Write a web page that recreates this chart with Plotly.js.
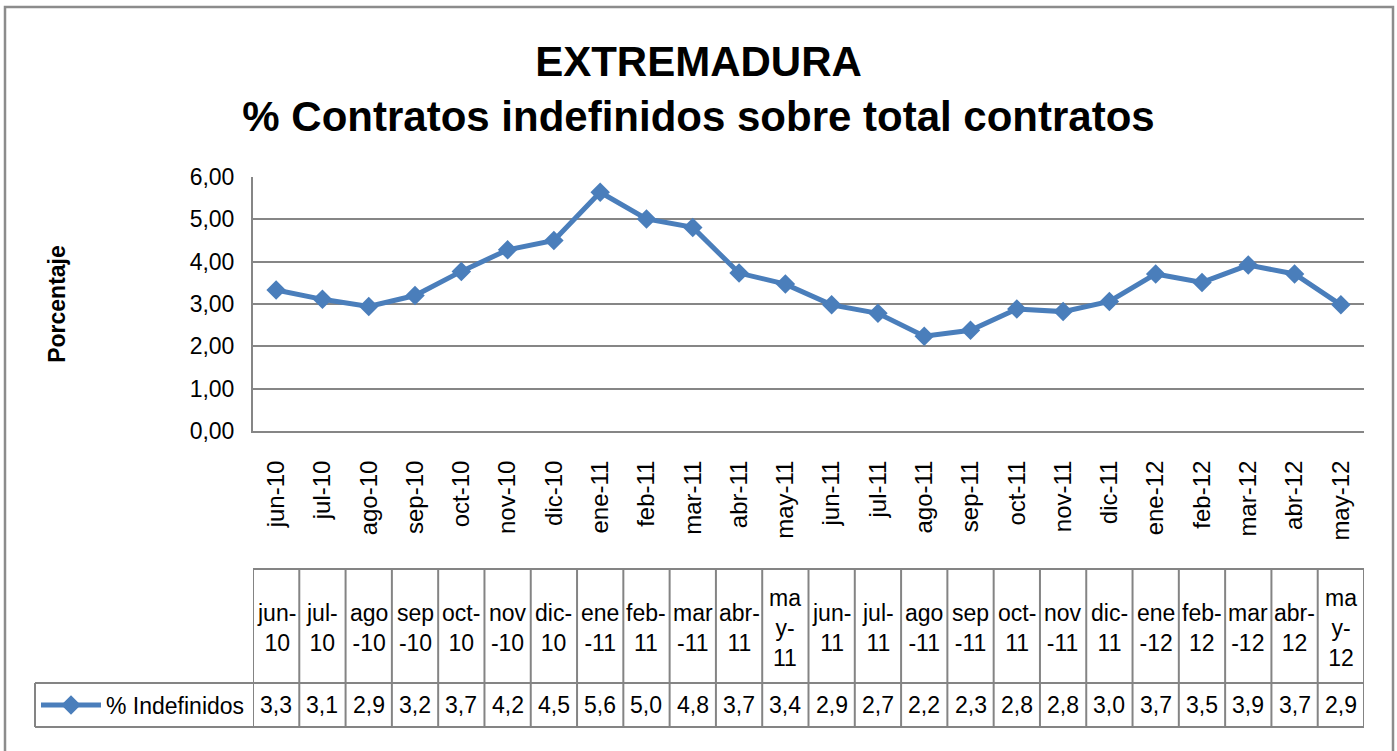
<!DOCTYPE html>
<html>
<head>
<meta charset="utf-8">
<script src="https://cdn.plot.ly/plotly-3.0.1.min.js"></script>
<style>
  html, body { margin: 0; padding: 0; background: #ffffff; }
  #chart { width: 1397px; height: 751px; }
</style>
</head>
<body>
<div id="chart"></div>
<script>
// ---- Data ----
const categories = ["jun-10","jul-10","ago-10","sep-10","oct-10","nov-10","dic-10",
  "ene-11","feb-11","mar-11","abr-11","may-11","jun-11","jul-11","ago-11","sep-11",
  "oct-11","nov-11","dic-11","ene-12","feb-12","mar-12","abr-12","may-12"];
const indefinidos = [3.33,3.11,2.94,3.20,3.77,4.28,4.50,5.64,5.01,4.81,3.73,3.47,
  2.98,2.78,2.24,2.38,2.88,2.82,3.06,3.71,3.51,3.92,3.71,2.98];
// wrapped labels as they appear in the data table header
const tableHeaders = ["jun-<br>10","jul-<br>10","ago<br>-10","sep<br>-10","oct-<br>10",
  "nov<br>-10","dic-<br>10","ene<br>-11","feb-<br>11","mar<br>-11","abr-<br>11","ma<br>y-<br>11",
  "jun-<br>11","jul-<br>11","ago<br>-11","sep<br>-11","oct-<br>11","nov<br>-11","dic-<br>11",
  "ene<br>-12","feb-<br>12","mar<br>-12","abr-<br>12","ma<br>y-<br>12"];
const seriesName = "% Indefinidos";
const yTicks = [0,1,2,3,4,5,6];

// ---- Layout helpers (pixel -> paper) ----
const W = 1397, H = 751;
const L = 253, R = 1364, T = 177, B = 431;
const px = x => (x - L) / (R - L);
const py = y => (B - y) / (B - T);

const FONT = "Liberation Sans, Arial, sans-serif";
const GRID = "#868686";
const BLUE = "#4a7ebb";

const fmt1 = v => (Math.floor(v * 10 + 1e-9) / 10).toFixed(1).replace(".", ",");

const trace = {
  type: "scatter",
  mode: "lines+markers",
  x: categories,
  y: indefinidos,
  name: seriesName,
  line: { color: BLUE, width: 5 },
  marker: { symbol: "diamond", size: 15, color: BLUE },
  cliponaxis: false
};

const shapes = [];
// outer chart border (bottom edge falls just outside the picture)
shapes.push({ type: "rect", xref: "paper", yref: "paper",
  x0: px(5), x1: px(1393), y0: py(762), y1: py(7),
  line: { color: "#8c8c8c", width: 2.5 }, fillcolor: "rgba(0,0,0,0)", layer: "below" });

const yHeadTop = py(569), yRow = py(683), yBot = py(727);
const lineStyle = { color: "#848484", width: 2 };
// horizontal lines of the data table
shapes.push({ type: "line", xref: "x", yref: "paper", x0: -0.5, x1: categories.length - 0.5,
  y0: yHeadTop, y1: yHeadTop, line: lineStyle });
shapes.push({ type: "line", xref: "paper", yref: "paper", x0: px(35), x1: 1,
  y0: yRow, y1: yRow, line: lineStyle });
shapes.push({ type: "line", xref: "paper", yref: "paper", x0: px(35), x1: 1,
  y0: yBot, y1: yBot, line: lineStyle });
// legend cell left border
shapes.push({ type: "line", xref: "paper", yref: "paper", x0: px(35), x1: px(35),
  y0: yRow, y1: yBot, line: lineStyle });
// column separators
for (let i = 0; i <= categories.length; i++) {
  shapes.push({ type: "line", xref: "x", yref: "paper", x0: i - 0.5, x1: i - 0.5,
    y0: yHeadTop, y1: yBot, line: lineStyle });
}

const annotations = [];
categories.forEach((c, i) => {
  annotations.push({ xref: "x", yref: "paper", x: c, y: py(628), text: tableHeaders[i],
    showarrow: false, xanchor: "center", yanchor: "middle",
    font: { family: FONT, size: 23, color: "#000" } });
  annotations.push({ xref: "x", yref: "paper", x: c, y: py(705), text: fmt1(indefinidos[i]),
    showarrow: false, xanchor: "center", yanchor: "middle",
    font: { family: FONT, size: 23, color: "#000" } });
});

const layout = {
  width: W, height: H,
  margin: { l: L, r: W - R, t: T, b: H - B, pad: 0 },
  paper_bgcolor: "#ffffff",
  plot_bgcolor: "#ffffff",
  separators: ", ",
  font: { family: FONT, color: "#000" },
  title: {
    text: "<b>EXTREMADURA</b><br><b>% Contratos indefinidos sobre total contratos</b>",
    x: 0.5, xref: "container", xanchor: "center",
    y: 1 - 76 / H, yref: "container", yanchor: "middle",
    font: { family: FONT, size: 42, color: "#000" }
  },
  xaxis: {
    type: "category",
    range: [-0.5, categories.length - 0.5],
    showgrid: false,
    showline: true, linecolor: GRID, linewidth: 2,
    ticks: "", tickangle: -90,
    ticklabelstandoff: 18,
    tickfont: { family: FONT, size: 24, color: "#000" },
    zeroline: false, fixedrange: true
  },
  yaxis: {
    range: [0, 6],
    tickvals: yTicks,
    tickformat: ".2f",
    showgrid: true, gridcolor: GRID, gridwidth: 2,
    showline: true, linecolor: GRID, linewidth: 2,
    ticks: "", ticklabelstandoff: 12,
    tickfont: { family: FONT, size: 23, color: "#000" },
    zeroline: false, fixedrange: true,
    title: { text: "<b>Porcentaje</b>", standoff: 118,
      font: { family: FONT, size: 23, color: "#000" } }
  },
  showlegend: true,
  legend: {
    x: px(36), y: py(705), xref: "paper", yref: "paper",
    xanchor: "left", yanchor: "middle",
    bgcolor: "rgba(0,0,0,0)",
    font: { family: FONT, size: 23, color: "#000" },
    itemwidth: 60
  },
  shapes: shapes,
  annotations: annotations
};

Plotly.newPlot("chart", [trace], layout, { displayModeBar: false, staticPlot: true });
</script>
</body>
</html>
